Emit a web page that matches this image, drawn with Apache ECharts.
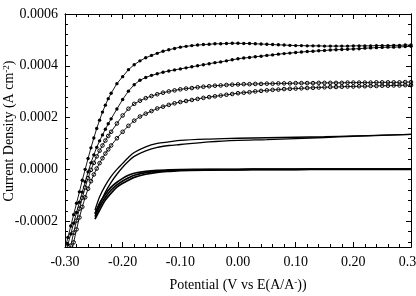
<!DOCTYPE html>
<html>
<head>
<meta charset="UTF-8">
<title>CV</title>
<script src="https://cdn.jsdelivr.net/npm/echarts@6/dist/echarts.min.js"></script>
<style>
  * { margin: 0; padding: 0; }
  body { background: #fff; }
  #chart { width: 416px; height: 296px; }
</style>
</head>
<body>
<div id="chart"></div>
<script>
// potentials (V) for the marker curves
var xs = [-0.300, -0.295, -0.290, -0.285, -0.280, -0.275, -0.270, -0.265, -0.260, -0.255,
  -0.250, -0.245, -0.240, -0.235, -0.230, -0.225, -0.220, -0.21, -0.20, -0.19,
  -0.18, -0.17, -0.16, -0.15, -0.14, -0.13, -0.12, -0.11, -0.10, -0.09,
  -0.08, -0.07, -0.06, -0.05, -0.04, -0.03, -0.02, -0.01, 0.00, 0.01,
  0.02, 0.03, 0.04, 0.05, 0.06, 0.07, 0.08, 0.09, 0.10, 0.11,
  0.12, 0.13, 0.14, 0.15, 0.16, 0.17, 0.18, 0.19, 0.20, 0.21,
  0.22, 0.23, 0.24, 0.25, 0.26, 0.27, 0.28, 0.29, 0.30];

// current densities, in units of 1e-4 A cm-2
var filledA = [-3.08, -2.63, -2.19, -1.75, -1.31, -0.87, -0.42, 0.00, 0.42, 0.83,
  1.21, 1.58, 1.90, 2.21, 2.48, 2.73, 2.94, 3.31, 3.58, 3.85,
  4.04, 4.19, 4.31, 4.40, 4.48, 4.56, 4.62, 4.67, 4.72, 4.75,
  4.78, 4.80, 4.82, 4.83, 4.85, 4.85, 4.86, 4.87, 4.87, 4.86,
  4.86, 4.85, 4.84, 4.83, 4.82, 4.81, 4.80, 4.79, 4.78, 4.78,
  4.77, 4.77, 4.77, 4.76, 4.76, 4.76, 4.76, 4.76, 4.77, 4.77,
  4.77, 4.77, 4.78, 4.78, 4.78, 4.79, 4.79, 4.80, 4.80];
var filledB = [-3.31, -2.90, -2.50, -2.08, -1.67, -1.27, -0.88, -0.48, -0.10, 0.25,
  0.56, 0.85, 1.10, 1.33, 1.55, 1.76, 1.95, 2.33, 2.70, 3.02,
  3.27, 3.44, 3.55, 3.63, 3.69, 3.75, 3.80, 3.84, 3.88, 3.92,
  3.96, 4.00, 4.04, 4.08, 4.12, 4.15, 4.19, 4.23, 4.27, 4.30,
  4.32, 4.35, 4.37, 4.40, 4.42, 4.45, 4.47, 4.49, 4.51, 4.53,
  4.55, 4.56, 4.58, 4.59, 4.61, 4.62, 4.63, 4.64, 4.65, 4.66,
  4.68, 4.69, 4.70, 4.71, 4.72, 4.72, 4.73, 4.74, 4.75];
var openC = [-3.96, -3.45, -2.95, -2.45, -1.98, -1.52, -1.10, -0.70, -0.34, -0.02,
  0.25, 0.50, 0.72, 0.92, 1.11, 1.29, 1.45, 1.77, 2.08, 2.34,
  2.53, 2.65, 2.75, 2.83, 2.90, 2.96, 3.01, 3.05, 3.09, 3.12,
  3.14, 3.17, 3.19, 3.21, 3.23, 3.24, 3.26, 3.27, 3.28, 3.29,
  3.29, 3.30, 3.30, 3.31, 3.31, 3.32, 3.32, 3.32, 3.33, 3.33,
  3.33, 3.33, 3.34, 3.34, 3.34, 3.34, 3.34, 3.35, 3.35, 3.35,
  3.35, 3.35, 3.36, 3.36, 3.36, 3.36, 3.36, 3.37, 3.37];
var openD = [-4.46, -3.90, -3.35, -2.82, -2.32, -1.86, -1.45, -1.08, -0.75, -0.46,
  -0.20, 0.03, 0.24, 0.43, 0.61, 0.77, 0.92, 1.20, 1.45, 1.68,
  1.88, 2.04, 2.15, 2.25, 2.35, 2.42, 2.49, 2.55, 2.60, 2.64,
  2.68, 2.72, 2.76, 2.79, 2.82, 2.85, 2.88, 2.91, 2.94, 2.96,
  2.98, 3.01, 3.03, 3.05, 3.07, 3.08, 3.10, 3.11, 3.12, 3.13,
  3.14, 3.15, 3.16, 3.17, 3.18, 3.18, 3.19, 3.20, 3.20, 3.21,
  3.21, 3.22, 3.22, 3.23, 3.23, 3.24, 3.24, 3.25, 3.25];

// potentials for the plain (no marker) curves
var xsPlain = [-0.248, -0.24, -0.23, -0.22, -0.21, -0.20, -0.19, -0.18, -0.16, -0.14,
  -0.12, -0.10, -0.05, 0.00, 0.05, 0.10, 0.15, 0.20, 0.25, 0.30];
var plainE = [-1.58, -1.06, -0.62, -0.27, 0.00, 0.23, 0.46, 0.65, 0.87, 1.00,
  1.06, 1.12, 1.17, 1.20, 1.22, 1.24, 1.26, 1.29, 1.32, 1.35];
var plainF = [-1.68, -1.35, -0.88, -0.50, -0.19, 0.08, 0.31, 0.50, 0.71, 0.85,
  0.92, 0.96, 1.06, 1.12, 1.15, 1.19, 1.23, 1.27, 1.31, 1.35];
var plainG1 = [-1.73, -1.31, -0.96, -0.69, -0.50, -0.35, -0.23, -0.15, -0.08, -0.04,
  -0.02, -0.01, 0.00, 0.00, 0.01, 0.01, 0.01, 0.01, 0.01, 0.02];
var plainG2 = [-1.83, -1.45, -1.08, -0.80, -0.60, -0.45, -0.33, -0.23, -0.13, -0.08,
  -0.05, -0.03, -0.01, -0.01, 0.00, 0.00, 0.01, 0.01, 0.01, 0.01];
var plainG3 = [-1.92, -1.58, -1.19, -0.92, -0.69, -0.54, -0.42, -0.31, -0.19, -0.12,
  -0.08, -0.05, -0.03, -0.02, -0.01, -0.01, 0.00, 0.00, 0.00, 0.00];

// y ticks (1e-4 units)
var yMajor = [-2, 0, 2, 4, 6];
var yMinor = [];
for (var t = -2.8; t < 6; t += 0.4) {
  var v = Math.round(t * 10) / 10;
  if (yMajor.indexOf(v) < 0) yMinor.push(v);
}

function pairs(x, y) {
  return x.map(function (v, i) { return [v, y[i]]; });
}

var font = 'Liberation Serif';
var fs = 14;
var axisLine = { show: true, onZero: false, lineStyle: { color: '#000', width: 1 } };
var supRich = { s: { fontSize: 9, fontFamily: font, fill: '#000', color: '#000', verticalAlign: 'top', lineHeight: 14 } };

function xAx(pos) {
  return {
    type: 'value', position: pos, min: -0.3, max: 0.3, interval: 0.1,
    axisLine: axisLine,
    axisTick: { inside: true, length: 5, lineStyle: { color: '#000' } },
    minorTick: { show: true, splitNumber: 5, length: 3, lineStyle: { color: '#000' } },
    splitLine: { show: false },
    axisLabel: {
      show: pos === 'bottom', color: '#000', fontFamily: font, fontSize: fs, margin: 8,
      formatter: function (v) { return v.toFixed(2); }
    }
  };
}

function yAx(pos, ticks, len, labels) {
  return {
    type: 'value', position: pos, min: -3, max: 6,
    axisLine: axisLine,
    axisTick: { inside: true, length: len, customValues: ticks, lineStyle: { color: '#000' } },
    splitLine: { show: false },
    axisLabel: {
      show: labels, customValues: yMajor, color: '#000', fontFamily: font, fontSize: fs, margin: 7,
      formatter: function (v) { return (v / 10000).toFixed(4); }
    }
  };
}

var chart = echarts.init(document.getElementById('chart'));

var markerLine = { color: '#000', width: 0.9 };
var openStyle = { color: 'rgba(255,255,255,0)', borderColor: '#000', borderWidth: 1 };

var xBottom = xAx('bottom');
xBottom.name = 'Potential (V vs E(A/A{s|-}))';
xBottom.nameLocation = 'middle';
xBottom.nameGap = 31;
xBottom.nameTextStyle = { color: '#000', fontFamily: font, fontSize: fs, rich: supRich };

chart.setOption({
  animation: false,
  backgroundColor: '#fff',
  grid: { left: 65, right: 5, top: 14, bottom: 49, outerBoundsMode: 'none', containLabel: false },
  graphic: [{
    type: 'text', x: 9, y: 131, rotation: Math.PI / 2,
    style: {
      text: 'Current Density (A cm{s|-2})',
      fill: '#000', fontFamily: font, fontSize: fs,
      align: 'center', verticalAlign: 'middle',
      rich: supRich
    }
  }],
  xAxis: [xBottom, xAx('top')],
  yAxis: [
    yAx('left', yMajor, 5, true),
    yAx('left', yMinor, 3, false),
    yAx('right', yMajor, 5, false),
    yAx('right', yMinor, 3, false)
  ],
  series: [
    { type: 'line', data: pairs(xs, filledA), symbol: 'circle', symbolSize: 3.4,
      itemStyle: { color: '#000' }, lineStyle: markerLine },
    { type: 'line', data: pairs(xs, filledB), symbol: 'circle', symbolSize: 3.4,
      itemStyle: { color: '#000' }, lineStyle: markerLine },
    { type: 'line', data: pairs(xs, openC), symbol: 'circle', symbolSize: 3.6,
      itemStyle: openStyle, lineStyle: markerLine },
    { type: 'line', data: pairs(xs, openD), symbol: 'circle', symbolSize: 3.6,
      itemStyle: openStyle, lineStyle: markerLine },
    { type: 'line', data: pairs(xsPlain, plainE), symbol: 'none', smooth: 0.3,
      lineStyle: { color: '#000', width: 1.3 } },
    { type: 'line', data: pairs(xsPlain, plainF), symbol: 'none', smooth: 0.3,
      lineStyle: { color: '#000', width: 1.3 } },
    { type: 'line', data: pairs(xsPlain, plainG1), symbol: 'none', smooth: 0.3,
      lineStyle: { color: '#000', width: 1.7 } },
    { type: 'line', data: pairs(xsPlain, plainG2), symbol: 'none', smooth: 0.3,
      lineStyle: { color: '#000', width: 1.7 } },
    { type: 'line', data: pairs(xsPlain, plainG3), symbol: 'none', smooth: 0.3,
      lineStyle: { color: '#000', width: 1.7 } }
  ]
});
</script>
</body>
</html>
